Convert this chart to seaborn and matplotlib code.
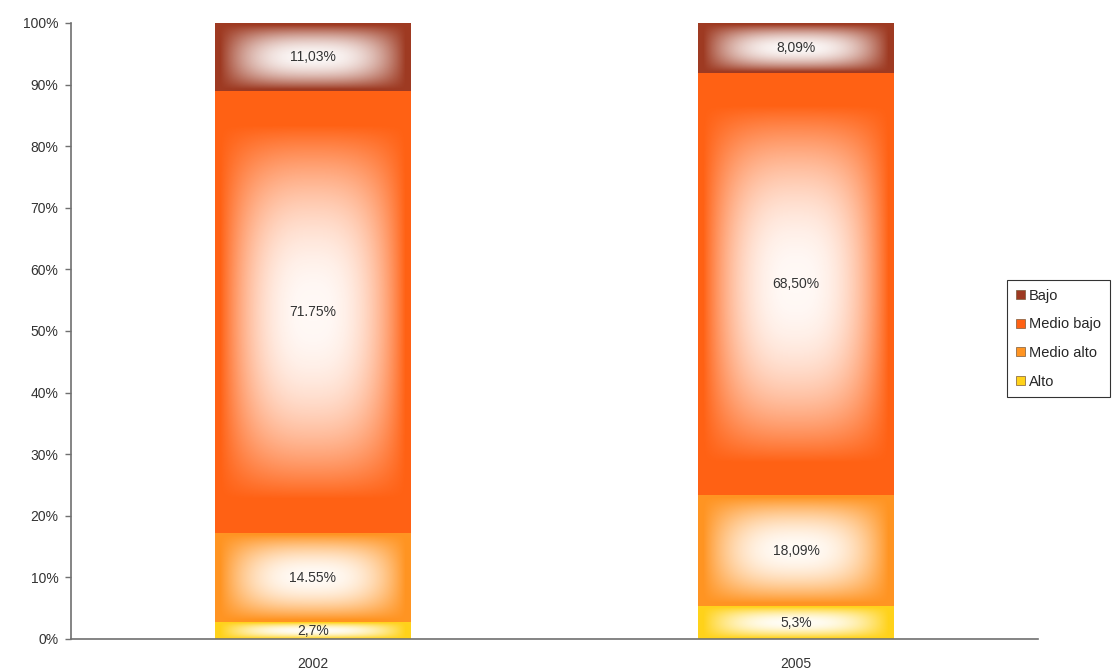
import numpy as np
import pandas as pd
import matplotlib
matplotlib.use("Agg")
import matplotlib.pyplot as plt
import seaborn as sns
from matplotlib.patches import Patch

years = ["2002", "2005"]
alto = [2.7, 5.3]
medio_alto = [14.55, 18.09]
medio_bajo = [71.75, 68.50]
bajo = [11.03, 8.09]
alto_lbl = ["2,7%", "5,3%"]
medio_alto_lbl = ["14.55%", "18,09%"]
medio_bajo_lbl = ["71.75%", "68,50%"]
bajo_lbl = ["11,03%", "8,09%"]
yticks = [0, 10, 20, 30, 40, 50, 60, 70, 80, 90, 100]
legend_order = ["Bajo", "Medio bajo", "Medio alto", "Alto"]

layers = [
    ("Alto", alto, alto_lbl, "#ffd21a"),
    ("Medio alto", medio_alto, medio_alto_lbl, "#ff9422"),
    ("Medio bajo", medio_bajo, medio_bajo_lbl, "#ff6114"),
    ("Bajo", bajo, bajo_lbl, "#9e3a22"),
]
colors = {name: c for name, _, _, c in layers}

sns.set_theme(style="white")
plt.rcParams["font.family"] = ["Liberation Sans", "DejaVu Sans"]

fig = plt.figure(figsize=(11.17, 6.70), dpi=100)
ax = fig.add_axes([71 / 1117, 1 - 639 / 670, (1038 - 71) / 1117, (639 - 23) / 670])

bottoms = np.zeros(len(years))
segments = []
for name, vals, lbls, col in layers:
    df = pd.DataFrame({"year": years, "val": vals})
    n_before = len(ax.patches)
    sns.barplot(data=df, x="year", y="val", color=col, saturation=1,
                width=0.405, ax=ax, linewidth=0, errorbar=None)
    new = ax.patches[n_before:]
    for p, b, v, l in zip(new, bottoms, vals, lbls):
        p.set_y(b)
        p.set_height(v)
        segments.append((p, l, col))
    bottoms = bottoms + np.array(vals)

# white glow gradient inside every segment
n = 240
u = np.linspace(-1, 1, n)
def prof(t, pw, inset):
    t = np.clip(np.abs(t) / inset, 0, 1)
    return 1 - t ** pw

for p, lbl, col in segments:
    x0, y0, w, h = p.get_x(), p.get_y(), p.get_width(), p.get_height()
    hh = h / 100.0
    if hh > 0.3:
        py = prof(u, 2.2, 0.85)
    else:
        py = prof(u, 2.0, 0.95)
    px = prof(u, 2.6, 0.95)
    a = np.outer(py, px) * 0.97
    img = np.ones((n, n, 4))
    img[..., 3] = a
    im = ax.imshow(img, extent=(x0, x0 + w, y0, y0 + h), origin="lower",
                   aspect="auto", zorder=p.get_zorder() + 0.1, interpolation="bilinear")
    im.set_clip_path(p)
    ax.text(x0 + w / 2, y0 + h / 2, lbl, ha="center", va="center",
            fontsize=10, color="#333333", zorder=5)

ax.set_xlim(-0.5, 1.5)
ax.set_ylim(0, 100)
ax.set_yticks(yticks)
ax.set_yticklabels([f"{t}%" for t in yticks], fontsize=10, color="#333333")
ax.set_xlabel("")
ax.set_ylabel("")
ax.tick_params(axis="x", length=0, pad=13, labelsize=10, labelcolor="#333333")
ax.tick_params(axis="y", length=4, width=1, color="#707070", direction="out", pad=5, left=True)
for s in ["top", "right"]:
    ax.spines[s].set_visible(False)
for s in ["left", "bottom"]:
    ax.spines[s].set_color("#707070")
    ax.spines[s].set_linewidth(1.2)
ax.grid(False)
ax.set_facecolor("white")

handles = [Patch(facecolor=colors[k], edgecolor="#7a5a3a", linewidth=0.5, label=k) for k in legend_order]
leg = fig.legend(handles=handles, loc="upper left", bbox_to_anchor=(1007 / 1117, 1 - 280 / 670),
                 frameon=True, fancybox=False, edgecolor="black", fontsize=10.5,
                 handlelength=0.6, handleheight=0.6, handletextpad=0.3, labelspacing=1.0,
                 borderpad=0.6, borderaxespad=0)
leg.get_frame().set_linewidth(0.8)

fig.savefig("out.png", dpi=100, facecolor="white")
